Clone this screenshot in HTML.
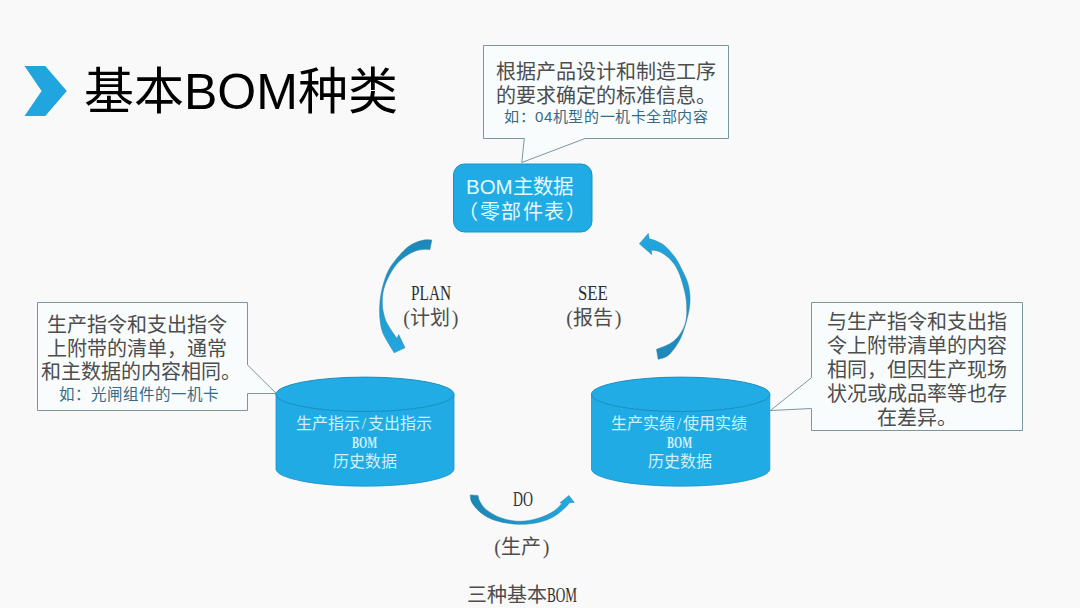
<!DOCTYPE html>
<html lang="zh-CN">
<head>
<meta charset="utf-8">
<style>
html,body{margin:0;padding:0;}
body{width:1080px;height:608px;overflow:hidden;background:#f9f9f9;position:relative;}
.t{position:absolute;white-space:nowrap;font-family:"Liberation Serif",serif;color:#4d4d4d;line-height:1;}
.s{font-family:"Liberation Sans",sans-serif;}
.n{display:inline-block;}
.n i{font-style:normal;display:inline-block;transform-origin:0 0;}
.dk .n i{color:#2e2e2e;}
.sl{display:inline-block;width:8px;text-align:center;}
.pl{display:inline-block;width:10px;text-align:right;}
.pr{display:inline-block;width:10px;text-align:center;}
svg{position:absolute;left:0;top:0;}
</style>
</head>
<body>
<svg width="1080" height="608" viewBox="0 0 1080 608">
  <defs>
    <linearGradient id="gp" gradientUnits="userSpaceOnUse" x1="0" y1="240" x2="0" y2="352"><stop offset="0" stop-color="#1d88b8"/><stop offset="1" stop-color="#22a7df"/></linearGradient>
    <linearGradient id="gs" gradientUnits="userSpaceOnUse" x1="0" y1="359" x2="0" y2="234"><stop offset="0" stop-color="#1d88b8"/><stop offset="1" stop-color="#22a7df"/></linearGradient>
    <linearGradient id="gd" gradientUnits="userSpaceOnUse" x1="470" y1="0" x2="574" y2="0"><stop offset="0" stop-color="#1d85b3"/><stop offset="1" stop-color="#22a9e1"/></linearGradient>
  </defs>
  <!-- title chevron -->
  <polygon points="24.5,66 45.3,66 66.8,91 45.3,116 24.5,116 41.6,91" fill="#20a5df"/>
  <!-- top callout -->
  <path d="M483.5,45.5 H728.5 V138.5 H585 L521.8,162.5 L524.3,138.5 H483.5 Z" fill="#f8fcfc" stroke="#7a979f" stroke-width="1"/>
  <!-- BOM main box -->
  <rect x="453.5" y="164" width="138.5" height="68" rx="11" ry="11" fill="#21abe4" stroke="#1b93c8" stroke-width="1"/>
  <!-- left callout -->
  <path d="M37.5,302.5 H247.5 V364.9 L276.3,393.5 L247.5,393.5 V410.5 H37.5 Z" fill="#f8fcfc" stroke="#7a979f" stroke-width="1"/>
  <!-- right callout -->
  <path d="M811.5,302.5 H1022.5 V430.5 H811.5 V408.5 L770.4,410.5 L811.5,377.7 Z" fill="#f8fcfc" stroke="#7a979f" stroke-width="1"/>
  <!-- left cylinder -->
  <path d="M276,394 V469 A89,17.2 0 0 0 454,469 V394 Z" fill="#21abe4" stroke="#1c93c6" stroke-width="0.8"/>
  <ellipse cx="365" cy="394.3" rx="89" ry="17.2" fill="#21ace5" stroke="#1a8fc2" stroke-width="1"/>
  <!-- right cylinder -->
  <path d="M591.5,394 V469 A89.15,17.2 0 0 0 769.8,469 V394 Z" fill="#21abe4" stroke="#1c93c6" stroke-width="0.8"/>
  <ellipse cx="680.65" cy="394.3" rx="89.15" ry="17.2" fill="#21ace5" stroke="#1a8fc2" stroke-width="1"/>
  <!-- left arc arrow (PLAN) -->
  <path d="M431.8,240.0 C430.3,240.1 426.3,239.3 422.6,240.3 C418.9,241.3 413.9,242.7 409.5,245.8 C405.1,248.9 400.1,254.4 396.3,259.0 C392.6,263.6 389.5,267.7 387.0,273.4 C384.5,279.1 382.4,287.1 381.2,293.0 C380.0,298.9 379.8,304.2 379.6,309.0 C379.5,313.8 379.8,318.2 380.3,322.0 C380.8,325.8 381.4,328.9 382.5,332.0 C383.6,335.1 384.9,337.0 386.8,340.5 C388.8,344.0 393.0,350.8 394.2,352.8 L405.0,347.8 L398.7,334.5 L397.0,338.5 C395.7,336.6 391.2,330.4 389.2,327.0 C387.2,323.6 385.9,321.7 384.8,318.0 C383.7,314.3 382.6,309.7 382.4,305.0 C382.2,300.3 382.3,295.1 383.5,290.0 C384.7,284.9 387.1,279.4 389.7,274.7 C392.3,270.0 395.3,265.3 399.0,261.6 C402.7,257.9 408.1,254.4 412.0,252.4 C415.9,250.4 419.6,249.9 422.6,249.5 C425.6,249.1 428.7,249.7 429.9,249.7 Z" fill="url(#gp)" stroke="#2a7ea6" stroke-width="0.5"/>
  <!-- right arc arrow (SEE) -->
  <path d="M658.2,359.3 C660.1,358.5 665.4,358.3 669.3,354.4 C673.2,350.5 678.2,343.9 681.6,335.9 C685.0,327.9 688.5,314.8 689.6,306.3 C690.7,297.8 689.7,291.3 688.3,285.0 C686.9,278.7 683.6,273.1 681.3,268.4 C679.0,263.7 677.2,260.4 674.4,256.6 C671.6,252.8 667.7,248.3 664.6,245.7 C661.5,243.1 658.3,242.0 655.7,240.8 C653.1,239.7 650.3,239.1 649.2,238.8 L648.3,233.4 L639.4,243.8 L651.7,254.6 L651.2,250.2 C652.6,250.4 656.6,250.3 659.6,251.7 C662.6,253.1 666.5,255.7 669.5,258.6 C672.5,261.6 675.3,265.4 677.4,269.4 C679.5,273.3 680.7,277.0 682.2,282.3 C683.7,287.6 685.9,294.5 686.4,301.4 C686.9,308.3 687.3,316.9 685.3,323.5 C683.3,330.1 679.0,336.5 674.2,340.8 C669.4,345.1 659.5,348.0 656.5,349.4 Z" fill="url(#gs)" stroke="#2a7ea6" stroke-width="0.5"/>
  <!-- DO arrow -->
  <path d="M470.2,494.9 C470.5,496.2 470.1,499.6 472.0,502.7 C473.9,505.8 477.7,510.5 481.7,513.5 C485.7,516.5 490.1,518.9 496.1,520.7 C502.1,522.5 510.8,524.0 517.8,524.3 C524.8,524.6 532.2,523.8 538.2,522.5 C544.2,521.2 549.5,518.9 553.9,516.5 C558.3,514.1 562.1,510.4 564.7,508.1 C567.3,505.8 568.7,503.6 569.5,502.7 L574.3,502.4 L568.9,495.5 L559.9,502.9 L562.3,502.9 C560.9,504.3 557.9,508.5 553.9,511.1 C549.9,513.7 543.8,516.6 538.2,518.3 C532.6,520.0 526.2,521.3 520.2,521.3 C514.2,521.3 507.7,520.2 502.1,518.3 C496.5,516.4 490.2,512.7 486.5,509.9 C482.8,507.1 481.3,503.9 479.9,501.5 C478.5,499.1 478.3,496.5 478.0,495.5 Z" fill="url(#gd)" stroke="#2a7ea6" stroke-width="0.5"/>
</svg>

<!-- title -->
<div class="t s" style="left:84px;top:67px;font-size:50px;color:#000;">基本BOM种类</div>

<!-- top callout text -->
<div class="t" style="left:496px;top:62px;font-size:20px;">根据产品设计和制造工序</div>
<div class="t" style="left:496px;top:86px;font-size:20px;">的要求确定的标准信息。</div>
<div class="t s" style="left:504px;top:109px;font-size:15px;letter-spacing:0.55px;color:#366a84;">如：04机型的一机卡全部内容</div>

<!-- BOM box text -->
<div class="t s" style="left:466px;top:176.5px;font-size:20.5px;color:#e4faff;">BOM主数据</div>
<div class="t s" style="left:458px;top:202px;font-size:20px;letter-spacing:1.6px;color:#e4faff;">（零部件表）</div>

<!-- PLAN / SEE -->
<div class="t dk" style="left:411px;top:283px;font-size:20px;"><span class="n" style="width:40px"><i style="transform:scaleX(.766)">PLAN</i></span></div>
<div class="t" style="left:400px;top:308px;font-size:20px;"><span class="pl">(</span>计划<span class="pr">)</span></div>
<div class="t dk" style="left:578px;top:283px;font-size:20px;"><span class="n" style="width:30px"><i style="transform:scaleX(.84)">SEE</i></span></div>
<div class="t" style="left:563px;top:308px;font-size:20px;"><span class="pl">(</span>报告<span class="pr">)</span></div>

<!-- left callout text -->
<div class="t" style="left:47px;top:315px;font-size:20px;">生产指令和支出指令</div>
<div class="t" style="left:47px;top:339px;font-size:20px;">上附带的清单，通常</div>
<div class="t" style="left:41px;top:362px;font-size:20px;">和主数据的内容相同。</div>
<div class="t s" style="left:59px;top:387px;font-size:15.5px;color:#366a84;">如：光闸组件的一机卡</div>

<!-- right callout text -->
<div class="t" style="left:827px;top:311.5px;font-size:20px;">与生产指令和支出指</div>
<div class="t" style="left:827px;top:335.5px;font-size:20px;">令上附带清单的内容</div>
<div class="t" style="left:827px;top:359.5px;font-size:20px;">相同，但因生产现场</div>
<div class="t" style="left:827px;top:383.5px;font-size:20px;">状况或成品率等也存</div>
<div class="t" style="left:877px;top:407.5px;font-size:20px;">在差异。</div>

<!-- cylinder texts -->
<div class="t" style="left:296px;top:416px;font-size:16px;color:#cdf0fa;">生产指示<span class="sl">/</span>支出指示</div>
<div class="t" style="left:352px;top:435px;font-size:16px;font-weight:bold;color:#cdf0fa;"><span class="n" style="width:24px"><i style="transform:scaleX(.66)">BOM</i></span></div>
<div class="t" style="left:333px;top:454px;font-size:16px;color:#cdf0fa;">历史数据</div>
<div class="t" style="left:611px;top:416px;font-size:16px;color:#cdf0fa;">生产实绩<span class="sl">/</span>使用实绩</div>
<div class="t" style="left:667px;top:435px;font-size:16px;font-weight:bold;color:#cdf0fa;"><span class="n" style="width:24px"><i style="transform:scaleX(.66)">BOM</i></span></div>
<div class="t" style="left:648px;top:454px;font-size:16px;color:#cdf0fa;">历史数据</div>

<!-- DO -->
<div class="t dk" style="left:513px;top:489px;font-size:20px;"><span class="n" style="width:20px"><i style="transform:scaleX(.69)">DO</i></span></div>
<div class="t" style="left:491px;top:537px;font-size:20px;"><span class="pl">(</span>生产<span class="pr">)</span></div>
<div class="t dk" style="left:467px;top:585px;font-size:20px;">三种基本<span class="n" style="width:30px"><i style="transform:scaleX(.66)">BOM</i></span></div>
</body>
</html>
